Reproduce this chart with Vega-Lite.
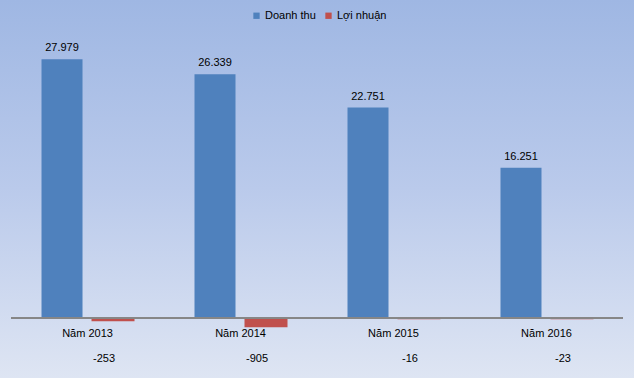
{
  "$schema": "https://vega.github.io/schema/vega-lite/v6.json",
  "width": 634,
  "height": 378,
  "autosize": {"type": "fit", "contains": "padding"},
  "padding": 0,
  "background": "#BCCBEA",
  "config": {
    "font": "Liberation Sans",
    "locale": {"number": {"decimal": ",", "thousands": ".", "grouping": [3], "currency": ["", ""], "minus": "-"}},
    "view": {
      "stroke": null,
      "fill": {
        "gradient": "linear", "x1": 0, "y1": 0, "x2": 0, "y2": 1,
        "stops": [
          {"offset": 0, "color": "#9FB7E3"},
          {"offset": 0.5, "color": "#BACAEB"},
          {"offset": 1, "color": "#DEE5F3"}
        ]
      }
    }
  },
  "data": {
    "values": [
      {"year": "Năm 2013", "series": "Doanh thu", "value": 27979},
      {"year": "Năm 2013", "series": "Lợi nhuận", "value": -253},
      {"year": "Năm 2014", "series": "Doanh thu", "value": 26339},
      {"year": "Năm 2014", "series": "Lợi nhuận", "value": -905},
      {"year": "Năm 2015", "series": "Doanh thu", "value": 22751},
      {"year": "Năm 2015", "series": "Lợi nhuận", "value": -16},
      {"year": "Năm 2016", "series": "Doanh thu", "value": 16251},
      {"year": "Năm 2016", "series": "Lợi nhuận", "value": -23}
    ]
  },
  "encoding": {
    "x": {
      "field": "year", "type": "nominal",
      "scale": {"paddingInner": 0, "paddingOuter": 0.072},
      "axis": {
        "orient": "bottom", "offset": -60, "domain": false, "ticks": false,
        "labelAngle": 0, "labelPadding": 9, "labelFontSize": 11, "labelColor": "#000000",
        "title": null, "grid": false
      }
    }
  },
  "layer": [
    {
      "mark": {"type": "bar", "strokeWidth": 2},
      "encoding": {
        "xOffset": {"field": "series", "type": "nominal", "sort": ["Doanh thu", "Lợi nhuận"], "scale": {"paddingInner": 0.196, "paddingOuter": 0.598}},
        "y": {"field": "value", "type": "quantitative", "scale": {"domain": [-6486, 34378], "nice": false, "zero": false}, "axis": null},
        "color": {
          "field": "series", "type": "nominal", "sort": ["Doanh thu", "Lợi nhuận"],
          "scale": {"domain": ["Doanh thu", "Lợi nhuận"], "range": ["#4F81BD", "#C0504D"]},
          "legend": {
            "title": null, "orient": "none", "direction": "horizontal",
            "legendX": 251, "legendY": 10, "padding": 0,
            "symbolType": "square", "symbolSize": 40, "symbolStrokeWidth": 0,
            "labelFontSize": 11, "labelColor": "#000000", "labelOffset": 3, "columnPadding": 7
          }
        },
        "stroke": {"condition": {"test": "datum.series == 'Lợi nhuận'", "value": "#C0504D"}, "value": null}
      }
    },
    {
      "transform": [{"filter": "datum.series == 'Doanh thu'"}],
      "mark": {"type": "text", "baseline": "bottom", "dy": -6, "fontSize": 11, "color": "#000000"},
      "encoding": {
        "xOffset": {"field": "series", "type": "nominal", "sort": ["Doanh thu", "Lợi nhuận"]},
        "y": {"field": "value", "type": "quantitative"},
        "text": {"field": "value", "type": "quantitative", "format": ",d"}
      }
    },
    {
      "transform": [{"filter": "datum.series == 'Lợi nhuận'"}],
      "mark": {"type": "text", "baseline": "middle", "dx": -9, "fontSize": 11, "color": "#000000"},
      "encoding": {
        "xOffset": {"field": "series", "type": "nominal", "sort": ["Doanh thu", "Lợi nhuận"]},
        "y": {"datum": -4400, "type": "quantitative"},
        "text": {"field": "value", "type": "quantitative", "format": ",d"}
      }
    },
    {
      "mark": {"type": "rule", "color": "#868686", "strokeWidth": 1},
      "encoding": {
        "x": {"datum": "Năm 2013", "type": "nominal", "bandPosition": 0},
        "x2": {"datum": "Năm 2016", "bandPosition": 1},
        "y": {"datum": 0, "type": "quantitative"}
      }
    }
  ]
}
